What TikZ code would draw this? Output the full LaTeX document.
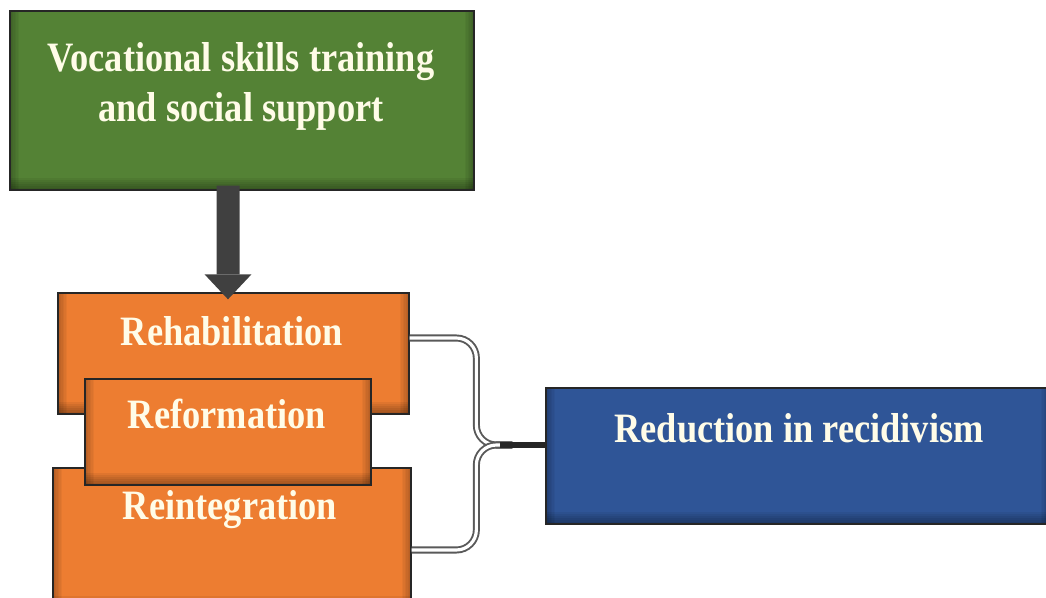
\documentclass[tikz,border=0pt]{standalone}
\usepackage{fontspec}
\setmainfont{Liberation Serif}[FakeStretch=0.87]
\usetikzlibrary{arrows.meta,positioning,calc}
\definecolor{boxgreen}{RGB}{84,130,53}
\definecolor{boxorange}{RGB}{237,125,49}
\definecolor{boxblue}{RGB}{47,85,151}
\definecolor{labelwhite}{RGB}{255,252,232}

\tikzset{
  box/.style={draw=black!85, line width=0.8pt, fill=#1, inner sep=0pt,
    path picture={
      % soft darkening along the bottom and the sides
      \foreach \k in {1,...,6}{
        \fill[black, opacity=0.06] ([yshift=\k*0.04cm]path picture bounding box.south west)
          rectangle (path picture bounding box.south east);
        \fill[black, opacity=0.04] (path picture bounding box.south west)
          rectangle ([xshift=\k*0.03cm]path picture bounding box.north west);
        \fill[black, opacity=0.04] (path picture bounding box.south east)
          rectangle ([xshift=-\k*0.03cm]path picture bounding box.north east);
      }}},
  boxtext/.style={text=labelwhite, font=\bfseries\fontsize{23.8}{28.4}\selectfont, align=center},
  bigarrow/.style={-{Triangle[width=0.94cm,length=0.5cm,line width=0pt]}, line width=0.46cm, black!75},
  link/.style={draw=black!65, line width=1.1pt, double=white, double distance=1.8pt, rounded corners=0.4cm},
  stub/.style={line width=3.4pt, black!85}
}

\begin{document}
\begin{tikzpicture}[x=0.02cm, y=-0.02cm]
  \useasboundingbox (0,0) rectangle (1046,598);
  % input box
  \node[box=boxgreen, minimum width=9.28cm, minimum height=3.58cm] (voc) at (242,100.5) {};
  \node[boxtext] (voc_t) at (241,86) {Vocational skills training\\and social support};
  % the three outcomes, middle one on top
  \node[box=boxorange, minimum width=7.02cm, minimum height=2.42cm] (rehab) at (233.5,353.5) {};
  \node[boxtext, anchor=base] (rehab_t) at (232,345) {Rehabilitation};
  \node[box=boxorange, minimum width=7.16cm, minimum height=2.8cm] (reint) at (232,538) {};
  \node[boxtext, anchor=base] (reint_t) at (230,519) {Reintegration};
  \node[box=boxorange, minimum width=5.72cm, minimum height=2.12cm] (reform) at (228,432) {};
  \node[boxtext, anchor=base] (reform_t) at (227,428) {Reformation};
  % result
  \node[box=boxblue, minimum width=10.08cm, minimum height=2.72cm] (red) at (798,456) {};
  \node[boxtext, anchor=base] (red_t) at (799,442) {Reduction in recidivism};

  \draw[bigarrow] ([xshift=-0.28cm,yshift=0.1cm]voc.south) -- ([xshift=-0.11cm,yshift=-0.14cm]rehab.north);

  \coordinate (join) at ([xshift=-0.66cm,yshift=0.22cm]red.west);
  \draw[link] ([yshift=0.31cm]rehab.east) -| ([xshift=-0.72cm]join) -- (join);
  \draw[link] ([yshift=-0.24cm]reint.east) -| ([xshift=-0.72cm]join) -- (join);
  \draw[stub] ([xshift=-0.25cm]join) -- (red.west |- join);
\end{tikzpicture}
\end{document}
